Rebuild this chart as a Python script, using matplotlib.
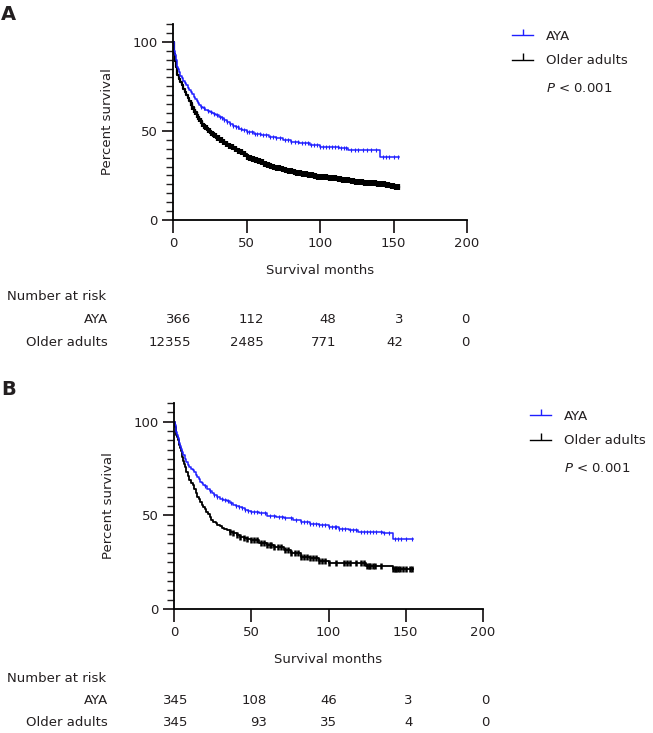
import numpy as np
import matplotlib
matplotlib.use("Agg")
import matplotlib.pyplot as plt
from matplotlib import transforms
from matplotlib.lines import Line2D

# ---- data ----
# panel A
a_aya_t = [0, 0.5, 1, 1.5, 2, 2.5, 3, 3.5, 4, 4.5, 5, 6, 7, 8, 9, 10, 11, 12, 13, 14, 15, 16, 17,
           18, 19, 20.5, 22, 23.5, 25, 26.5, 28, 29.5, 31, 33, 35, 37, 39, 41, 43, 45, 47, 50,
           55, 60, 65, 70, 75, 80, 86, 93, 100, 108, 113, 119, 141, 154]
a_aya_s = [100, 97.5, 95, 92.5, 90, 88, 86, 84.5, 83, 82, 81, 79.5, 78, 76.7, 75.5, 74.2, 73,
           71.7, 70.5, 69.2, 68, 66.7, 65.5, 64.5, 63.5, 62.7, 62, 61.2, 60.5, 60, 59.5, 58.7,
           58, 57, 56, 55, 54, 53, 52, 51.2, 50.5, 49.6, 48.5, 47.5, 46.5, 46, 45, 44, 43, 42,
           41.2, 41, 40.5, 39.3, 35.4, 35.4]
a_aya_cens = [19, 21, 24, 26, 28, 30, 32, 33, 35, 37, 39, 41, 43, 44, 46, 48, 50, 52, 54, 56, 57,
              59, 61, 63, 66, 68, 70, 73, 76, 78, 80, 83, 85, 88, 90, 92, 94, 96, 98, 100, 102,
              104, 106, 108, 110, 112, 114, 116, 118, 121, 124, 126, 129, 132, 135, 138, 143,
              145, 147, 150, 153]

a_old_t = [0, 0.5, 1, 1.5, 2, 2.5, 3, 4, 5, 6, 7, 8, 9, 10, 11, 12, 13, 14, 15, 16, 17, 18, 19,
           20, 21, 22, 23, 24, 25, 26, 27, 28, 29, 30, 32, 34, 36, 38, 40, 42, 44, 46, 48, 50,
           52, 54, 56, 58, 60, 62, 64, 66, 68, 70, 72, 74, 76, 78, 80, 82, 84, 86, 88, 90, 92,
           94, 96, 98, 100, 103, 106, 109, 112, 115, 118, 121, 124, 127, 130, 133, 136, 139,
           142, 145, 148, 151, 154]
a_old_s = [100, 96, 93, 89, 86, 83, 81.5, 79, 77.3, 75.5, 73.5, 72, 70, 68.5, 67, 65.5, 63.5,
           62, 60.5, 59, 57.8, 56.5, 55.3, 54, 53, 52.2, 51.4, 50.6, 49.8, 49, 48.4, 47.7, 47,
           46.3, 45, 43.7, 42.5, 41.6, 40.7, 39.8, 39, 38, 36.8, 35.6, 34.9, 34.2, 33.6, 33,
           32.3, 31.7, 31, 30.5, 30, 29.4, 29, 28.5, 28.1, 27.7, 27.3, 27, 26.6, 26.2, 25.9,
           25.6, 25.3, 25, 24.7, 24.4, 24.1, 23.9, 23.8, 23.4, 23, 22.6, 22.2, 21.9, 21.6, 21.3,
           21, 20.8, 20.6, 20.3, 20, 19.6, 19.2, 18.8, 18.4]
a_old_cens = [12, 13, 14, 15, 16, 17, 18, 19, 20, 21, 22, 23, 24, 25, 26, 27, 28, 29, 30, 31,
              32, 33, 34, 35, 36, 37, 38, 39, 40, 41, 42, 43, 44, 45, 46, 47, 48, 49, 50, 51,
              52, 53, 54, 55, 56, 57, 58, 59, 60, 61, 62, 63, 64, 65, 66, 67, 68, 69, 70, 71,
              72, 73, 74, 75, 76, 77, 78, 79, 80, 81, 82, 83, 84, 85, 86, 87, 88, 89, 90, 91,
              92, 93, 94, 95, 96, 97, 98, 99, 100, 101, 102, 103, 104, 105, 106, 107, 108, 109,
              110, 111, 112, 113, 114, 115, 116, 117, 118, 119, 120, 121, 122, 123, 124, 125,
              126, 127, 128, 129, 130, 131, 132, 133, 134, 135, 136, 137, 138, 139, 140, 141,
              142, 143, 144, 145, 146, 147, 148, 149, 150, 151, 152, 153, 154]

# panel B
b_aya_t = [0, 0.5, 1, 1.5, 2, 2.5, 3, 3.5, 4, 4.5, 5, 6, 7, 8, 9, 10, 11, 12, 13, 14, 15, 16, 17,
           18, 19, 20, 21.5, 23, 24.5, 26, 28, 30, 32, 34, 36, 38, 40, 42, 44, 46, 48, 50, 55,
           60, 66, 71, 77, 82, 88, 94, 100, 107, 113, 119, 128, 135, 142, 155]
b_aya_s = [100, 98, 96, 94.5, 93, 91.5, 90, 88.5, 87, 85.5, 84, 82, 80, 78.5, 77, 76, 75, 74,
           73, 71.7, 70.5, 69.3, 68, 67.2, 66.3, 65.5, 64.3, 63, 62, 61, 60, 59, 58.2, 57.5,
           56.5, 55.6, 55, 54.5, 53.7, 53, 52.5, 52, 51, 49.5, 49, 48.7, 47.5, 46.6, 45.5,
           44.7, 44, 42.6, 42.3, 41, 41, 40.8, 37.3, 37.3]
b_aya_cens = [20, 23, 26, 28, 31, 33, 35, 37, 40, 42, 44, 46, 48, 50, 52, 54, 56, 59, 62, 65,
              68, 70, 72, 76, 79, 82, 84, 86, 88, 90, 92, 94, 96, 98, 100, 102, 104, 105, 107,
              109, 111, 114, 116, 118, 121, 123, 125, 127, 129, 131, 134, 136, 139, 143, 145,
              147, 150, 154]

b_old_t = [0, 0.5, 1, 1.5, 2, 2.5, 3, 3.5, 4, 4.5, 5, 5.5, 6, 6.5, 7, 7.5, 8, 9, 10, 11, 12, 13,
           14, 15, 16, 17, 18, 19, 20, 21, 22, 23, 24, 25.5, 27, 28, 29.5, 31, 32.5, 34, 36, 38,
           40.5, 43, 45, 47, 50, 55, 60, 65, 71, 76, 82, 88, 94, 100, 124, 142, 155]
b_old_s = [100, 97, 95, 93, 92, 90, 89, 87.5, 86, 84.5, 83, 81, 79, 77.5, 76, 74.5, 73, 71, 69,
           67.5, 66, 64, 62, 60, 58.5, 57, 55.7, 54.5, 53.3, 52, 50.5, 49, 47.7, 46.5, 45.7,
           45, 44.2, 43.5, 42.8, 42, 41.2, 40.5, 39.5, 38.5, 38, 37.5, 37, 35.5, 34, 33, 31.5,
           30, 28, 27, 25.5, 24.6, 23, 21.2, 21.2]
b_old_cens = [36, 38, 41, 43, 45, 47, 50, 52, 54, 56, 58, 60, 62, 63, 65, 67, 69, 72, 74, 76,
              78, 80, 82, 84, 86, 88, 90, 92, 94, 96, 98, 100, 105, 110, 112, 114, 118, 121, 123,
              125, 126, 127, 129, 130, 134, 142, 143, 144, 145, 146, 148, 150, 153, 154]

risk_times = [0, 50, 100, 150, 200]
a_risk_aya = [366, 112, 48, 3, 0]
a_risk_old = [12355, 2485, 771, 42, 0]
b_risk_aya = [345, 108, 46, 3, 0]
b_risk_old = [345, 93, 35, 4, 0]

groups = ["AYA", "Older adults"]
blue = "#1f1fff"
txt = "#231f20"

W, H = 653, 733
plt.rcParams["font.family"] = ["DejaVu Sans"]
plt.rcParams["font.size"] = 9.5
plt.rcParams["text.color"] = txt
plt.rcParams["axes.labelcolor"] = txt
plt.rcParams["xtick.color"] = txt
plt.rcParams["ytick.color"] = txt

fig = plt.figure(figsize=(W / 100, H / 100), dpi=100)


def fx(px):
    return px / W


def fy(py):
    return 1 - py / H


def km(ax, t, s, cens, color, msize, mew, lw):
    ax.plot(t, s, drawstyle="steps-post", color=color, lw=lw, clip_on=False)
    idx = np.searchsorted(t, cens, side="right") - 1
    cs = np.asarray(s)[idx]
    ax.plot(cens, cs, ls="none", marker="|", color=color, markersize=msize,
            markeredgewidth=mew, clip_on=False)


def style_axes(ax):
    ax.set_xlim(0, 200)
    ax.set_ylim(0, 110)
    for sp in ["top", "right"]:
        ax.spines[sp].set_visible(False)
    for sp in ["left", "bottom"]:
        ax.spines[sp].set_linewidth(1.3)
        ax.spines[sp].set_color("black")
    ax.set_xticks([0, 50, 100, 150, 200])
    ax.set_yticks([0, 50, 100])
    ax.set_yticks(np.arange(0, 111, 5), minor=True)
    ax.tick_params(axis="x", length=9, width=1.3, pad=3)
    ax.tick_params(axis="y", which="major", length=8, width=1.3, pad=3)
    ax.tick_params(axis="y", which="minor", length=5, width=1.0)
    ax.set_xlabel("Survival months", labelpad=10)
    ax.set_ylabel("Percent survival", labelpad=13)


def panel(rect, letter, letter_y, aya, old, risk_aya, risk_old, leg_xy, risk_rows, offs):
    ax = fig.add_axes(rect)
    km(ax, *old[:3], "black", *old[3:])
    km(ax, *aya[:3], blue, *aya[3:])
    style_axes(ax)

    fig.text(fx(1), fy(letter_y), letter, fontsize=14, fontweight="bold", va="center",
             color=txt)

    handles = [Line2D([0], [0], color=blue, lw=1, marker=2, markersize=4),
               Line2D([0], [0], color="black", lw=1, marker=2, markersize=5)]
    fig.legend(handles, groups, loc="upper left", frameon=False,
               bbox_to_anchor=(fx(leg_xy[0]), fy(leg_xy[1])), borderaxespad=0, borderpad=0,
               handlelength=1.6, handletextpad=1.0, labelspacing=0.85, fontsize=9.5)
    fig.text(fx(leg_xy[0] + 34), fy(leg_xy[1] + 59), r"$P$ < 0.001", va="center")

    y0, y1, y2 = risk_rows
    fig.text(fx(7), fy(y0), "Number at risk", va="center")
    fig.text(fx(108), fy(y1), groups[0], va="center", ha="right")
    fig.text(fx(108), fy(y2), groups[1], va="center", ha="right")
    trans = transforms.blended_transform_factory(ax.transData, fig.transFigure)
    for t, n1, n2, d in zip(risk_times, risk_aya, risk_old, offs):
        tr = transforms.offset_copy(trans, fig=fig, x=d, units="dots")
        ax.text(t, fy(y1), str(n1), ha="right", va="center", transform=tr)
        ax.text(t, fy(y2), str(n2), ha="right", va="center", transform=tr)
    return ax


# panel A: axis 0..200 spans px 173..467, y 0..110 spans px 220..24
panel([fx(173), fy(220), (467 - 173) / W, (220 - 24) / H], "A", 14,
      (a_aya_t, a_aya_s, a_aya_cens, 3, 0.8, 1.1),
      (a_old_t, a_old_s, a_old_cens, 5, 1.6, 1.6),
      a_risk_aya, a_risk_old, (512, 30), (297, 320, 342), [18, 17.5, 16, 9.5, 3])

# panel B: axis 0..200 spans px 174..483, y 0..110 spans px 609..403
panel([fx(174), fy(609), (483 - 174) / W, (609 - 403) / H], "B", 389,
      (b_aya_t, b_aya_s, b_aya_cens, 3, 0.8, 1.1),
      (b_old_t, b_old_s, b_old_cens, 4, 1.8, 1.3),
      b_risk_aya, b_risk_old, (530, 410), (678, 700, 722), [14, 16, 8.5, 7, 7])

fig.savefig("out.png", dpi=100)
